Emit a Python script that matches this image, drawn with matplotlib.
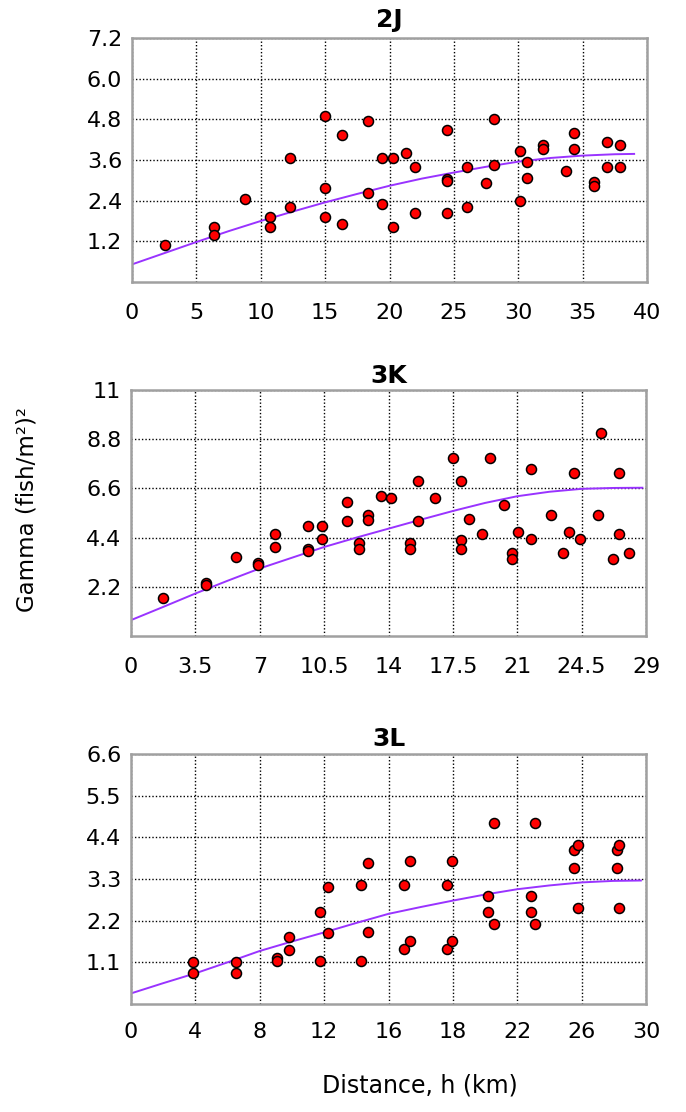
import numpy as np
import matplotlib
matplotlib.use('Agg')
import matplotlib.pyplot as plt

plt.rcParams['font.family'] = ['DejaVu Sans']

# --- panel 2J ---
x_2j = [2.6, 6.4, 6.4, 8.75, 10.7, 10.7, 12.3, 12.3, 15.0, 15.0, 15.0, 16.3, 16.3,
        18.3, 18.3, 19.4, 19.4, 20.3, 20.3, 21.3, 22.0, 22.0, 24.5, 24.5, 24.5, 24.5,
        26.0, 26.0, 27.5, 28.1, 28.1, 30.1, 30.1, 30.7, 30.7, 31.9, 31.9, 33.7, 34.3,
        34.3, 35.9, 35.9, 36.9, 36.9, 37.9, 37.9]
y_2j = [1.09, 1.61, 1.40, 2.45, 1.93, 1.61, 3.65, 2.20, 4.90, 2.77, 1.93, 4.33, 1.72,
        4.76, 2.62, 3.65, 2.29, 3.65, 1.61, 3.82, 3.40, 2.04, 4.49, 3.03, 2.97, 2.04,
        3.40, 2.20, 2.92, 4.81, 3.45, 3.87, 2.39, 3.55, 3.08, 4.04, 3.92, 3.29, 4.39,
        3.92, 2.96, 2.82, 4.13, 3.40, 4.03, 3.40]
fit_x_2j = [0, 2.5, 5, 7.5, 10, 12.5, 15, 17.5, 20, 22.5, 25, 27.5, 30, 32.5, 35, 37.5, 39]
fit_y_2j = [0.52, 0.85, 1.18, 1.50, 1.80, 2.08, 2.35, 2.60, 2.84, 3.05, 3.23, 3.40,
            3.55, 3.66, 3.73, 3.77, 3.78]

# --- panel 3K ---
x_3k = [1.76, 4.1, 4.1, 5.69, 6.89, 6.89, 7.82, 7.82, 9.65, 9.65, 9.65, 10.37, 10.37,
        11.75, 11.75, 12.4, 12.4, 12.91, 12.91, 13.57, 14.11, 15.18, 15.18, 15.6, 15.6,
        16.54, 17.49, 17.94, 17.94, 17.94, 18.36, 19.1, 19.52, 20.28, 20.71, 20.71,
        21.02, 21.76, 21.76, 22.81, 23.47, 23.79, 24.08, 24.41, 25.37, 25.55, 26.22,
        26.53, 26.53, 27.07]
y_3k = [1.72, 2.39, 2.27, 3.52, 3.27, 3.17, 4.55, 3.98, 4.93, 3.91, 3.80, 4.93, 4.35,
        5.97, 5.13, 4.18, 3.91, 5.42, 5.17, 6.27, 6.15, 4.18, 3.91, 6.91, 5.13,
        6.15, 7.95, 6.91, 4.28, 3.91, 5.22, 4.55, 7.95, 5.88, 3.69, 3.43,
        4.65, 7.47, 4.35, 5.39, 3.72, 4.65, 7.28, 4.35, 5.39, 9.08, 3.43,
        7.28, 4.55, 3.72]
fit_x_3k = [0, 1.75, 3.5, 5.25, 7, 8.75, 10.5, 12.25, 14, 15.75, 17.5, 19.25, 21, 22.75,
            24.5, 26.25, 27.8]
fit_y_3k = [0.71, 1.30, 1.90, 2.47, 3.02, 3.50, 3.98, 4.40, 4.80, 5.20, 5.59, 5.95,
            6.25, 6.45, 6.58, 6.62, 6.63]

# --- panel 3L ---
x_3l = [3.61, 3.61, 6.1, 6.1, 8.49, 8.49, 9.21, 9.21, 11.01, 11.01, 11.46, 11.46,
        13.4, 13.4, 13.83, 13.83, 15.89, 15.89, 16.24, 16.24, 18.41, 18.41, 18.72, 18.72,
        20.78, 20.78, 21.15, 21.15, 23.3, 23.3, 23.52, 23.52, 25.79, 25.79, 26.06, 26.06,
        28.29, 28.29, 28.41, 28.41]
y_3l = [1.10, 0.81, 1.10, 0.81, 1.21, 1.14, 1.76, 1.43, 2.44, 1.14, 3.10, 1.87,
        3.15, 1.14, 3.73, 1.91, 3.15, 1.44, 3.78, 1.67, 3.15, 1.44, 3.78, 1.67,
        2.86, 2.44, 4.78, 2.11, 2.86, 2.44, 4.78, 2.11, 4.07, 3.59, 4.20, 2.53,
        4.07, 3.59, 4.20, 2.53]
fit_x_3l = [0, 1.875, 3.75, 5.625, 7.5, 9.375, 11.25, 13.125, 15, 16.875, 18.75,
            20.625, 22.5, 24.375, 26.25, 28.1, 29.7]
fit_y_3l = [0.28, 0.55, 0.81, 1.10, 1.40, 1.65, 1.89, 2.14, 2.38, 2.56, 2.73, 2.89,
            3.03, 3.13, 3.21, 3.25, 3.26]

# axis settings per panel
titles = ['2J', '3K', '3L']
xmax = [40, 28, 30]
ymax = [7.2, 11, 6.6]
xlabels = [['0', '5', '10', '15', '20', '25', '30', '35', '40'],
           ['0', '3.5', '7', '10.5', '14', '17.5', '21', '24.5', '29'],
           ['0', '4', '8', '12', '16', '18', '22', '26', '30']]
ylabels = [['1.2', '2.4', '3.6', '4.8', '6.0', '7.2'],
           ['2.2', '4.4', '6.6', '8.8', '11'],
           ['1.1', '2.2', '3.3', '4.4', '5.5', '6.6']]
xs = [x_2j, x_3k, x_3l]
ys = [y_2j, y_3k, y_3l]
fxs = [fit_x_2j, fit_x_3k, fit_x_3l]
fys = [fit_y_2j, fit_y_3k, fit_y_3l]

W, H = 686, 1112
fig = plt.figure(figsize=(W / 100, H / 100), dpi=100)

# pixel boxes (left, top, right, bottom)
boxes = [(132, 38, 647, 282), (131, 390, 646, 636), (131, 754, 646, 1004)]
title_pad = [8, 5, 6]
xtick_pad = [15, 15, 13]

for i in range(3):
    l, t, r, b = boxes[i]
    ax = fig.add_axes([l / W, 1 - b / H, (r - l) / W, (b - t) / H])
    ax.plot(fxs[i], fys[i], color='#9933ff', lw=1.4, zorder=2)
    ax.plot(xs[i], ys[i], 'o', ms=7.2, mfc='#ff0000', mec='black', mew=1.1, zorder=3)

    ax.set_xlim(0, xmax[i])
    ax.set_ylim(0, ymax[i])
    ax.set_xticks(np.linspace(0, xmax[i], 9))
    ax.set_xticklabels(xlabels[i])
    ny = len(ylabels[i])
    yt = np.linspace(0, ymax[i], ny + 1)[1:]
    ax.set_yticks(yt)
    ax.set_yticklabels(ylabels[i])

    ax.grid(True, color='black', ls=(0, (1, 1.5)), lw=1.0)
    ax.set_axisbelow(True)
    ax.tick_params(length=0, labelsize=16)
    ax.tick_params(axis='x', pad=xtick_pad[i])
    ax.tick_params(axis='y', pad=7)
    for s in ax.spines.values():
        s.set_color('#a0a0a0')
        s.set_linewidth(1.8)
    ax.set_title(titles[i], fontsize=18, fontweight='bold', pad=title_pad[i])

fig.text(27 / W, 1 - 510 / H, 'Gamma (fish/m²)²', rotation=90, fontsize=16.5,
         ha='center', va='center')
fig.text(420 / W, 1 - 1085 / H, 'Distance, h (km)', fontsize=17,
         ha='center', va='center')

fig.savefig('out.png', dpi=100)
